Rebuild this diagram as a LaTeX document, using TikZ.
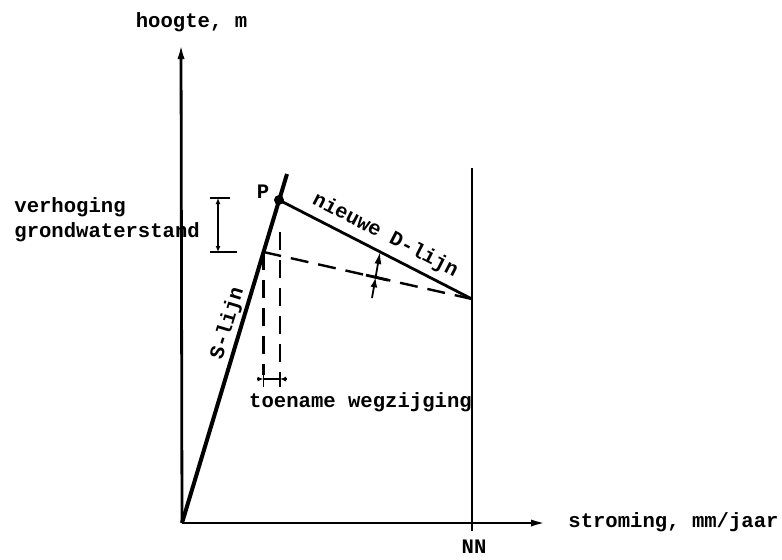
\documentclass[tikz,border=0pt]{standalone}
\usepackage{fontspec}
\setmonofont{Liberation Mono}
\usepackage{tikz}
\usetikzlibrary{arrows.meta, positioning}

\begin{document}
\begin{tikzpicture}[
    x=0.5pt, y=-0.5pt,
    axis/.style={line width=1.4pt, -{Latex[length=8pt, width=3.5pt]}},
    sline/.style={line width=2pt},
    dline/.style={line width=1.4pt},
    helpline/.style={line width=1.2pt, dash pattern=on 9pt off 5pt},
    dimline/.style={line width=0.9pt},
    smalltip/.style={-{Latex[length=5pt, width=3.5pt]}},
    txt/.style={font=\ttfamily\bfseries\fontsize{10.3}{12.5}\selectfont, inner sep=1pt}
]
\useasboundingbox (0,0) rectangle (782,559);

% Define the main points
\coordinate (origin) at (182,523);
\coordinate (ytop) at (181,43);
\coordinate (xend) at (547,523);
\coordinate (stop) at (287,174);
\coordinate (nntop) at (472,168);
\coordinate (nnbot) at (472,531);
\coordinate (nnpt) at (472,299);
\coordinate (oldpt) at (263.5,252);
\node[circle, fill, inner sep=0pt, minimum size=5pt] (p) at (279,200) {};

% Axes and the NN line
\draw[axis] (origin) -- (ytop);
\draw[axis] (origin) -- (xend);
\draw[line width=1pt] (nntop) -- (nnbot);

% S-line, new D-line and old D-line
\draw[sline] (origin) -- node[txt, sloped, above, pos=0.56] (slbl) {S-lijn} (stop);
\draw[dline] (p.center) -- node[txt, sloped, above, pos=0.51, yshift=2pt] (dlbl) {nieuwe D-lijn} (nnpt);
\draw[helpline] (oldpt) -- (nnpt);

% Dropped lines to the flow difference
\coordinate (lbot) at (263.5,375);
\coordinate (rtop) at (280,232);
\coordinate (rbot) at (280,375);
\draw[helpline] (oldpt) -- (lbot);
\draw[helpline] (rtop) -- (rbot);
\coordinate (wl) at (257,379);
\coordinate (wr) at (287,379);
\coordinate (wla) at (263.5,379);
\coordinate (wra) at (280,379);
\draw[dimline] (263.5,372) -- (263.5,387);
\draw[dimline] (280,372) -- (280,387);
\draw[dimline, -{Latex[length=3pt, width=2.5pt]}] (wl) -- (wla);
\draw[dimline, -{Latex[length=3pt, width=2.5pt]}] (wr) -- (wra);
\draw[dimline] (wla) -- (wra);

% Rise of the groundwater level
\coordinate (hup) at (218,198);
\coordinate (hlo) at (218,252);
\draw[dimline, {Latex[length=3pt, width=2.5pt]}-{Latex[length=3pt, width=2.5pt]}] (hlo) -- (hup);
\draw[dimline] (210,198) -- (230,198);
\draw[dimline] (210,252) -- (237,252);

% Arrow from old to new D-line
\coordinate (abot) at (372,298);
\coordinate (amid) at (375.6,277.3);
\coordinate (atop) at (380,252);
\draw[dimline, smalltip] (abot) -- (amid);
\draw[dimline, -{Latex[length=6pt, width=3.5pt]}] (amid) -- (atop);
\draw[line width=1.4pt] (366,275.1) -- (388,280.1);

% Labels
\node[txt, anchor=base] (ylbl) at (191.5,27.5) {hoogte, m};
\node[txt, anchor=base west] (xlbl) at (566,527.5) {stroming, mm/jaar};
\node[txt, anchor=base] (nnlbl) at (474,553) {NN};
\node[txt, anchor=base] (plbl) at (263,198) {P};
\node[txt, anchor=base west] (vlbl) at (12,212.5) {verhoging};
\node[txt, anchor=base west] (glbl) at (12,237.5) {grondwaterstand};
\node[txt, anchor=base] (tlbl) at (360.5,407) {toename wegzijging};

\end{tikzpicture}
\end{document}
